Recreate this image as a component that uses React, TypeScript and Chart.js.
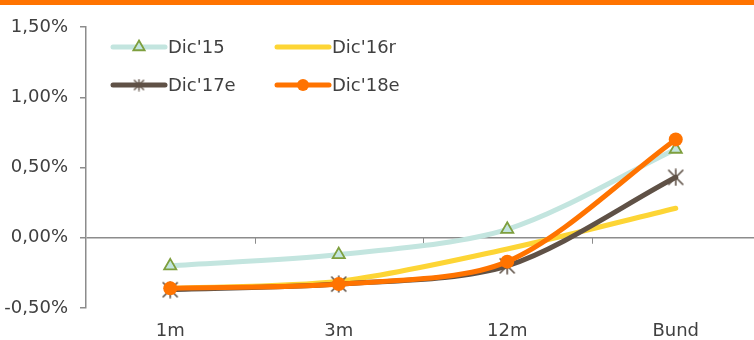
import { useEffect, useRef } from 'react';
import { Chart, registerables } from 'chart.js';
Chart.register(...registerables);

const categories = ['1m', '3m', '12m', 'Bund'];
const seriesNames = ["Dic'15", "Dic'16r", "Dic'17e", "Dic'18e"];
const dic15 = [-0.2, -0.12, 0.06, 0.63];
const dic16r = [-0.36, -0.31, -0.08, 0.21];
const dic17e = [-0.37, -0.33, -0.2, 0.43];
const dic18e = [-0.36, -0.33, -0.17, 0.7];
const yTicks = [-0.5, 0, 0.5, 1, 1.5];

const TEAL = '#c3e5df';
const GREEN = '#7e9f3e';
const YELLOW = '#fdd535';
const BROWN = '#5f5146';
const ORANGE = '#ff7300';
const AXIS = '#8c8c8c';
const TEXT = '#404040';
const FONT = 'DejaVu Sans';

function makeStar(size: number, lw: number) {
  const c = document.createElement('canvas');
  c.width = size;
  c.height = size;
  const g = c.getContext('2d')!;
  g.strokeStyle = BROWN;
  g.lineWidth = lw;
  const m = 1.5;
  g.beginPath();
  g.moveTo(m, m);
  g.lineTo(size - m, size - m);
  g.moveTo(size - m, m);
  g.lineTo(m, size - m);
  g.moveTo(size / 2, 0.5);
  g.lineTo(size / 2, size - 0.5);
  g.stroke();
  return c;
}

export default function App() {
  const ref = useRef<HTMLCanvasElement>(null);
  useEffect(() => {
    document.body.style.margin = '0';
    const starBig = makeStar(18, 1.6);
    const starSmall = makeStar(13, 1.4);

    const decor = {
      id: 'decor',
      beforeDatasetsDraw(chart: any) {
        const { ctx, scales } = chart;
        const x = scales.x;
        const y0 = scales.y.getPixelForValue(0);
        ctx.save();
        ctx.strokeStyle = AXIS;
        ctx.lineWidth = 1;
        for (let i = 1; i < categories.length; i++) {
          const px = Math.round(x.getPixelForValue(i - 0.5)) + 0.5;
          ctx.beginPath();
          ctx.moveTo(px, y0);
          ctx.lineTo(px, y0 + 6);
          ctx.stroke();
        }
        ctx.restore();
      },
      afterDraw(chart: any) {
        const { ctx, chartArea } = chart;
        const items = [
          { name: seriesNames[0], color: TEAL, marker: 'tri' },
          { name: seriesNames[1], color: YELLOW, marker: 'none' },
          { name: seriesNames[2], color: BROWN, marker: 'star' },
          { name: seriesNames[3], color: ORANGE, marker: 'circle' },
        ];
        ctx.save();
        items.forEach((it, i) => {
          const col = i % 2;
          const row = Math.floor(i / 2);
          const x1 = chartArea.left + 27 + col * 164;
          const x2 = x1 + 52;
          const y = 47 + row * 38;
          ctx.strokeStyle = it.color;
          ctx.lineWidth = 5;
          ctx.lineCap = 'round';
          ctx.beginPath();
          ctx.moveTo(x1, y);
          ctx.lineTo(x2, y);
          ctx.stroke();
          const cx = (x1 + x2) / 2;
          if (it.marker === 'tri') {
            const r = 6.5;
            ctx.beginPath();
            ctx.moveTo(cx, y - r);
            ctx.lineTo(cx + r * 0.866, y + r * 0.5);
            ctx.lineTo(cx - r * 0.866, y + r * 0.5);
            ctx.closePath();
            ctx.fillStyle = TEAL;
            ctx.fill();
            ctx.strokeStyle = GREEN;
            ctx.lineWidth = 1.8;
            ctx.lineCap = 'butt';
            ctx.stroke();
          } else if (it.marker === 'circle') {
            ctx.beginPath();
            ctx.arc(cx, y, 6, 0, Math.PI * 2);
            ctx.fillStyle = ORANGE;
            ctx.fill();
          } else if (it.marker === 'star') {
            ctx.drawImage(starSmall, cx - 6.5, y - 6.5);
          }
          ctx.fillStyle = TEXT;
          ctx.font = `18px "${FONT}"`;
          ctx.textBaseline = 'middle';
          ctx.textAlign = 'left';
          ctx.fillText(it.name, x2 + 3, y + 1);
        });
        ctx.restore();
      },
    };

    const common = {
      borderWidth: 5,
      tension: 0.3,
      borderCapStyle: 'round',
      borderJoinStyle: 'round',
      fill: false,
    };

    const chart = new Chart(ref.current!, {
      type: 'line',
      data: {
        labels: categories,
        datasets: [
          {
            ...common,
            label: seriesNames[0],
            data: dic15,
            borderColor: TEAL,
            pointStyle: 'triangle',
            pointRadius: 7,
            pointBorderWidth: 1.8,
            pointBorderColor: GREEN,
            pointBackgroundColor: TEAL,
            order: 4,
          },
          {
            ...common,
            label: seriesNames[1],
            data: dic16r,
            borderColor: YELLOW,
            pointRadius: 0,
            order: 3,
          },
          {
            ...common,
            label: seriesNames[2],
            data: dic17e,
            borderColor: BROWN,
            pointStyle: starBig,
            pointRadius: 9,
            order: 2,
          },
          {
            ...common,
            label: seriesNames[3],
            data: dic18e,
            borderColor: ORANGE,
            pointStyle: 'circle',
            pointRadius: 7,
            pointBorderWidth: 0,
            pointBackgroundColor: ORANGE,
            order: 1,
          },
        ] as any,
      },
      options: {
        animation: false,
        responsive: false,
        devicePixelRatio: 1,
        layout: { autoPadding: false, padding: { top: 27, right: 0, left: 0, bottom: 0 } },
        plugins: { legend: { display: false }, tooltip: { enabled: false }, title: { display: false } },
        font: { family: FONT },
        scales: {
          x: {
            offset: true,
            grid: { display: false, drawTicks: false },
            border: { display: false },
            ticks: { color: TEXT, font: { family: FONT, size: 18 }, padding: 13, maxRotation: 0 },
            afterFit(s: any) {
              s.height = 32;
              s.paddingLeft = 0;
              s.paddingRight = 0;
            },
          },
          y: {
            min: -0.5,
            max: 1.5,
            afterBuildTicks(s: any) {
              s.ticks = yTicks.map((v) => ({ value: v }));
            },
            grid: {
              color: (c: any) => (c.tick && c.tick.value === 0 ? AXIS : 'rgba(0,0,0,0)'),
              lineWidth: 1.5,
              tickColor: AXIS,
              tickLength: 6,
            },
            border: { display: true, color: AXIS, width: 1.5 },
            ticks: {
              color: TEXT,
              font: { family: FONT, size: 18 },
              padding: 12,
              callback: (v: any) => Number(v).toFixed(2).replace('.', ',') + '%',
            },
            afterFit(s: any) {
              s.width = 86;
            },
          },
        },
      } as any,
      plugins: [decor],
    });
    return () => chart.destroy();
  }, []);

  return (
    <div style={{ position: 'relative', width: 754, height: 340, background: '#fff', overflow: 'hidden' }}>
      <canvas ref={ref} width={760} height={340} style={{ display: 'block' }} />
      <div style={{ position: 'absolute', left: 0, top: 0, width: 754, height: 5, background: ORANGE }} />
    </div>
  );
}
